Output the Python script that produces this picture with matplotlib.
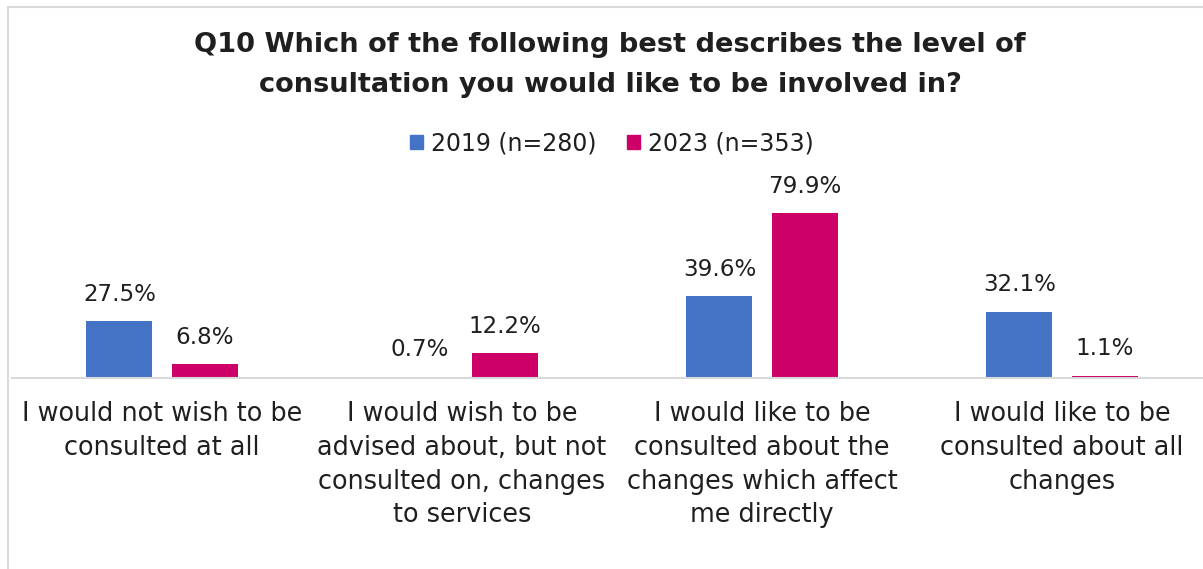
import matplotlib
matplotlib.use("Agg")
import matplotlib.pyplot as plt
from matplotlib.patches import Rectangle

# Survey responses (% of respondents)
categories = [
    "I would not wish to be\nconsulted at all",
    "I would wish to be\nadvised about, but not\nconsulted on, changes\nto services",
    "I would like to be\nconsulted about the\nchanges which affect\nme directly",
    "I would like to be\nconsulted about all\nchanges",
]
series_names = ["2019 (n=280)", "2023 (n=353)"]
values_2019 = [27.5, 0.7, 39.6, 32.1]
values_2023 = [6.8, 12.2, 79.9, 1.1]
title = "Q10 Which of the following best describes the level of\nconsultation you would like to be involved in?"

colors = ["#4472C4", "#CC0066"]
text_color = "#1f1f1f"
font = "DejaVu Sans"

W, H = 1203, 569
fig = plt.figure(figsize=(W / 100, H / 100), dpi=100)

def fx(px):
    return px / W

def fy(py):
    return 1 - py / H

# chart frame
fig.patches.append(Rectangle((fx(8), fy(700)), fx(1300), fy(7) - fy(700),
                             transform=fig.transFigure, fill=False,
                             edgecolor="#D9D9D9", linewidth=1.5))

ax = fig.add_axes([fx(12), fy(378), fx(1212) - fx(12), fy(190) - fy(378)])
ax.set_xlim(-0.5, 3.5)
ax.set_ylim(0, 91)
for s in ["top", "right", "left"]:
    ax.spines[s].set_visible(False)
ax.spines["bottom"].set_color("#D9D9D9")
ax.spines["bottom"].set_linewidth(1.5)
ax.spines["bottom"].set_zorder(4)
ax.set_yticks([])
ax.set_xticks([])

offset = 0.142
width = 0.22
for vals, off, col in [(values_2019, -offset, colors[0]), (values_2023, offset, colors[1])]:
    xs = [i + off for i in range(len(vals))]
    bars = ax.bar(xs, vals, width=width, color=col, zorder=3)
    for b, v in zip(bars, vals):
        ax.annotate(f"{v:.1f}%", (b.get_x() + b.get_width() / 2, v),
                    xytext=(0, 11), textcoords="offset points",
                    ha="center", va="bottom", fontsize=16.6,
                    family=font, color=text_color)

# category labels under the axis
for i, lab in enumerate(categories):
    ax.annotate(lab, (i, 0), xytext=(0, -16.5), textcoords="offset points",
                ha="center", va="top", fontsize=18.4, family=font,
                color=text_color, linespacing=1.39,
                annotation_clip=False)

fig.text(fx(610), fy(65), title, ha="center", va="center", fontsize=19.6,
         fontweight="bold", family=font, color=text_color, linespacing=1.66)

handles = [Rectangle((0, 0), 1, 1, color=c) for c in colors]
fig.legend(handles, series_names, loc="center", bbox_to_anchor=(fx(612), fy(143)),
           ncol=2, frameon=False, prop={"family": font, "size": 17},
           handlelength=0.55, handleheight=0.55, handletextpad=0.35,
           columnspacing=1.3, labelcolor=text_color)

fig.savefig("out.png", dpi=100)
